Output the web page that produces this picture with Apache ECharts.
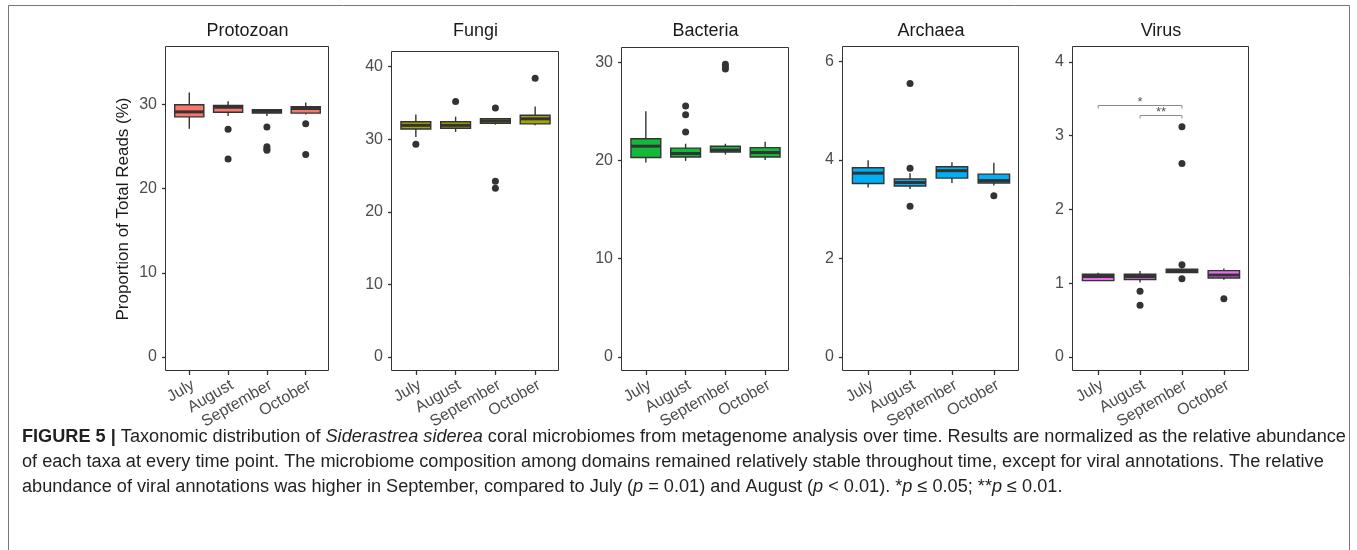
<!DOCTYPE html>
<html>
<head>
<meta charset="utf-8">
<title>Figure 5</title>
<script src="https://cdn.jsdelivr.net/npm/echarts@6.0.0/dist/echarts.min.js"></script>
<style>
html, body { margin: 0; padding: 0; background: #fff; }
#chart { width: 1357px; height: 550px; }
</style>
</head>
<body>
<div id="chart"></div>
<script>
var months = ['July', 'August', 'September', 'October'];

// box stats per month: [lower whisker, Q1, median, Q3, upper whisker]
var protozoanBox = [
    [27.1, 28.5, 29.1, 29.95, 31.4],
    [28.6, 29.05, 29.65, 29.85, 30.35],
    [28.6, 28.95, 29.15, 29.35, 29.45],
    [28.8, 28.95, 29.5, 29.7, 30.2]
];
var protozoanOut = [[], [27.05, 23.5], [27.3, 24.95, 24.7, 24.55], [27.7, 24.05]];
var protozoanTicks = [0, 10, 20, 30];

var fungiBox = [
    [30.3, 31.4, 31.9, 32.4, 33.4],
    [31.0, 31.5, 31.9, 32.4, 33.1],
    [32.0, 32.2, 32.5, 32.8, 32.9],
    [31.9, 32.1, 32.8, 33.3, 34.5]
];
var fungiOut = [[29.3], [35.2], [34.3, 24.2, 23.25], [38.4]];
var fungiTicks = [0, 10, 20, 30, 40];

var bacteriaBox = [
    [19.8, 20.3, 21.45, 22.2, 25.0],
    [19.95, 20.35, 20.7, 21.25, 21.7],
    [20.6, 20.85, 21.05, 21.45, 21.7],
    [20.05, 20.35, 20.8, 21.3, 21.9]
];
var bacteriaOut = [[], [25.55, 24.65, 22.9], [29.8, 29.55, 29.3], []];
var bacteriaTicks = [0, 10, 20, 30];

var archaeaBox = [
    [3.44, 3.52, 3.73, 3.84, 3.99],
    [3.41, 3.47, 3.54, 3.61, 3.73],
    [3.53, 3.63, 3.78, 3.86, 3.95],
    [3.48, 3.53, 3.58, 3.71, 3.94]
];
var archaeaOut = [[], [5.55, 3.83, 3.06], [], [3.27]];
var archaeaTicks = [0, 2, 4, 6];

var virusBox = [
    [1.03, 1.035, 1.09, 1.12, 1.14],
    [1.01, 1.05, 1.09, 1.12, 1.165],
    [1.14, 1.145, 1.17, 1.19, 1.2],
    [1.045, 1.07, 1.11, 1.17, 1.2]
];
var virusOut = [[], [0.89, 0.70], [3.12, 2.62, 1.25, 1.06], [0.79]];
var virusTicks = [0, 1, 2, 3, 4];

// significance brackets on the virus panel (month index from / to, height)
var sigFrom = [0, 1];
var sigTo = [2, 2];
var sigY = [3.41, 3.28];
var sigLabels = ['*', '**'];

var captionLines = [
    '{b|FIGURE 5 |} Taxonomic distribution of {i|Siderastrea siderea} coral microbiomes from metagenome analysis over time. Results are normalized as the relative abundance',
    'of each taxa at every time point. The microbiome composition among domains remained relatively stable throughout time, except for viral annotations. The relative',
    'abundance of viral annotations was higher in September, compared to July ({i|p} = 0.01) and August ({i|p} < 0.01). *{i|p} \u2264 0.05; **{i|p} \u2264 0.01.'
];

var FONT = '"Liberation Sans", Arial, Helvetica, sans-serif';
var DARK = '#333333';
var CAP_SIZE = 18.15;

var panels = [
    {name: 'Protozoan', box: protozoanBox, out: protozoanOut, ticks: protozoanTicks, color: '#F8766D', rect: [166, 47, 163, 324], range: [-1.66, 36.8]},
    {name: 'Fungi', box: fungiBox, out: fungiOut, ticks: fungiTicks, color: '#A3A500', rect: [392, 52, 167, 319], range: [-1.92, 42.0]},
    {name: 'Bacteria', box: bacteriaBox, out: bacteriaOut, ticks: bacteriaTicks, color: '#12BA3C', rect: [622, 48, 167, 323], range: [-1.45, 31.45]},
    {name: 'Archaea', box: archaeaBox, out: archaeaOut, ticks: archaeaTicks, color: '#00B0F6', rect: [843, 47, 176, 324], range: [-0.285, 6.29]},
    {name: 'Virus', box: virusBox, out: virusOut, ticks: virusTicks, color: '#E76BF3', rect: [1073, 47, 176, 324], range: [-0.19, 4.2]}
];

function boxRenderer(fill) {
    return function (params, api) {
        var x = api.value(0);
        var lo = api.coord([x, api.value(1)]);
        var q1 = api.coord([x, api.value(2)]);
        var md = api.coord([x, api.value(3)]);
        var q3 = api.coord([x, api.value(4)]);
        var hi = api.coord([x, api.value(5)]);
        var half = api.size([1, 0])[0] * 0.75 / 2;
        var cx = q1[0];
        var line = {stroke: DARK, lineWidth: 1.4};
        return {
            type: 'group',
            children: [
                {type: 'line', shape: {x1: cx, y1: hi[1], x2: cx, y2: q3[1]}, style: line},
                {type: 'line', shape: {x1: cx, y1: q1[1], x2: cx, y2: lo[1]}, style: line},
                {type: 'rect', shape: {x: cx - half, y: q3[1], width: half * 2, height: q1[1] - q3[1]},
                    style: {fill: fill, stroke: DARK, lineWidth: 1.4}},
                {type: 'line', shape: {x1: cx - half, y1: md[1], x2: cx + half, y2: md[1]},
                    style: {stroke: DARK, lineWidth: 3}}
            ]
        };
    };
}

function sigRenderer(params, api) {
    var a = api.coord([api.value(0), api.value(2)]);
    var b = api.coord([api.value(1), api.value(2)]);
    var y = Math.round(a[1]) + 0.5;
    return {
        type: 'group',
        children: [
            {type: 'polyline', shape: {points: [[a[0], y + 3], [a[0], y], [b[0], y], [b[0], y + 3]]},
                style: {stroke: '#8a8a8a', lineWidth: 1, fill: null}},
            {type: 'text', style: {text: sigLabels[params.dataIndex], x: (a[0] + b[0]) / 2, y: y - 3,
                textAlign: 'center', textVerticalAlign: 'middle', fontSize: 13, fontFamily: FONT, fill: '#555'}}
        ]
    };
}

var grids = [], xAxes = [], yAxes = [], series = [], graphics = [];

// figure frame, open at the bottom like the cropped original
graphics.push({
    type: 'rect', silent: true,
    shape: {x: 8.5, y: 5.5, width: 1341, height: 560},
    style: {fill: null, stroke: '#777', lineWidth: 1}
});

for (var p = 0; p < panels.length; p++) {
    var pn = panels[p];
    var L = pn.rect[0], T = pn.rect[1], W = pn.rect[2], H = pn.rect[3];
    var inset = W / 42;
    var outer = grids.length, inner = outer + 1;

    // frame of the panel
    grids.push({left: L - 0.5, top: T - 0.5, width: W, height: H, show: true,
        borderColor: DARK, borderWidth: 1, backgroundColor: 'rgba(0,0,0,0)', containLabel: false});
    // plotting area, narrowed so categories sit like a ggplot discrete axis
    grids.push({left: L + inset, top: T, width: W - 2 * inset, height: H, containLabel: false});

    xAxes.push({type: 'value', gridIndex: outer, show: false, min: 0, max: 1});
    yAxes.push({type: 'value', gridIndex: outer, show: false, min: 0, max: 1});

    xAxes.push({
        type: 'category', gridIndex: inner, data: months, boundaryGap: true,
        axisLine: {show: false, onZero: false},
        axisTick: {show: true, alignWithLabel: true, length: 4, lineStyle: {color: DARK, width: 1.3}},
        axisLabel: {interval: 0, rotate: 30, margin: 6, verticalAlign: 'top',
            fontSize: 16, color: '#4D4D4D', fontFamily: FONT},
        splitLine: {show: false}
    });
    var ya = {
        type: 'value', gridIndex: inner, min: pn.range[0], max: pn.range[1], offset: inset,
        axisLine: {show: false, onZero: false},
        axisTick: {show: true, length: 4, lineStyle: {color: DARK, width: 1.3}, customValues: pn.ticks},
        axisLabel: {customValues: pn.ticks, margin: 9, fontSize: 16, color: '#4D4D4D', fontFamily: FONT},
        splitLine: {show: false}
    };
    if (p === 0) {
        ya.name = 'Proportion of Total Reads (%)';
        ya.nameLocation = 'middle';
        ya.nameGap = 34;
        ya.nameTextStyle = {fontSize: 17, color: '#1a1a1a', fontFamily: FONT};
    }
    yAxes.push(ya);

    series.push({
        type: 'custom', name: pn.name, xAxisIndex: inner, yAxisIndex: inner,
        renderItem: boxRenderer(pn.color),
        encode: {x: 0, y: [1, 2, 3, 4, 5]},
        data: pn.box.map(function (b, i) { return [i].concat(b); })
    });

    var pts = [];
    pn.out.forEach(function (vals, i) {
        vals.forEach(function (v) { pts.push([i, v]); });
    });
    series.push({
        type: 'scatter', xAxisIndex: inner, yAxisIndex: inner, data: pts,
        symbolSize: 7, itemStyle: {color: DARK, opacity: 1}
    });

    graphics.push({
        type: 'text', silent: true, x: L + W / 2, y: 31,
        style: {text: pn.name, textAlign: 'center', textVerticalAlign: 'middle',
            fontSize: 18, fontFamily: FONT, fill: '#1a1a1a'}
    });
}

series.push({
    type: 'custom', xAxisIndex: 9, yAxisIndex: 9,
    renderItem: sigRenderer,
    encode: {x: [0, 1], y: 2},
    data: sigY.map(function (y, i) { return [sigFrom[i], sigTo[i], y]; })
});

var rich = {
    b: {fontFamily: FONT, fontSize: CAP_SIZE, fontWeight: 'bold', fill: '#231F20'},
    i: {fontFamily: FONT, fontSize: CAP_SIZE, fontStyle: 'italic', fill: '#231F20'}
};
captionLines.forEach(function (t, i) {
    graphics.push({
        type: 'text', silent: true, x: 22, y: 437 + i * 25,
        style: {text: t, rich: rich, fontFamily: FONT, fontSize: CAP_SIZE, fill: '#231F20', textVerticalAlign: 'middle'}
    });
});

var chart = echarts.init(document.getElementById('chart'));
chart.setOption({
    animation: false,
    backgroundColor: '#fff',
    grid: grids,
    xAxis: xAxes,
    yAxis: yAxes,
    series: series,
    graphic: {elements: graphics}
});
</script>
</body>
</html>
